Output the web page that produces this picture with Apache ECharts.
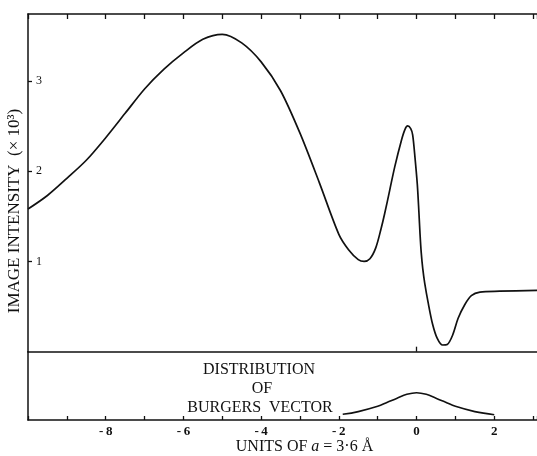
<!DOCTYPE html>
<html>
<head>
<meta charset="utf-8">
<script src="https://cdn.jsdelivr.net/npm/echarts@6/dist/echarts.min.js"></script>
<style>
  html, body { margin: 0; padding: 0; background: #fff; }
  #chart { width: 537px; height: 456px; }
</style>
</head>
<body>
<div id="chart"></div>
<script>
// Image intensity profile across the dislocation (units of a, intensity in 10^3)
const intensityX = [-10.0, -9.5, -9.0, -8.5, -8.0, -7.5, -7.0, -6.5, -6.0, -5.5, -5.0, -4.5, -4.0, -3.5, -3.0, -2.5, -2.0, -1.75, -1.5, -1.35, -1.2, -1.05, -0.92, -0.82, -0.69, -0.56, -0.39, -0.3, -0.23, -0.15, -0.1, -0.04, 0.02, 0.06, 0.09, 0.12, 0.16, 0.21, 0.3, 0.41, 0.53, 0.67, 0.79, 0.93, 1.07, 1.24, 1.41, 1.63, 2.14, 3.1];
const intensityY = [1.58, 1.73, 1.92, 2.12, 2.37, 2.64, 2.91, 3.13, 3.31, 3.46, 3.515, 3.42, 3.21, 2.89, 2.42, 1.87, 1.3, 1.13, 1.02, 1.0, 1.03, 1.15, 1.35, 1.53, 1.79, 2.05, 2.34, 2.46, 2.5, 2.47, 2.4, 2.15, 1.85, 1.55, 1.3, 1.1, 0.92, 0.76, 0.54, 0.31, 0.15, 0.074, 0.08, 0.185, 0.37, 0.52, 0.62, 0.66, 0.67, 0.68];

// Distribution of the Burgers vector (relative height)
const burgersX = [-1.9, -1.5, -1.0, -0.75, -0.5, -0.25, 0, 0.25, 0.5, 0.75, 1.0, 1.5, 2.0];
const burgersY = [0.083, 0.123, 0.2, 0.26, 0.32, 0.376, 0.4, 0.376, 0.32, 0.26, 0.2, 0.123, 0.078];

const yTicks = [1, 2, 3];
const xTickLabels = [-8, -6, -4, -2, 0, 2];

const FONT = '"Liberation Serif", "DejaVu Serif", serif';
const INK = '#111';

const pair = (xs, ys) => xs.map((x, i) => [x, ys[i]]);

const chart = echarts.init(document.getElementById('chart'), null, { renderer: 'canvas' });

chart.setOption({
  animation: false,
  backgroundColor: '#fff',
  grid: [
    { left: 28, right: 0, top: 14, height: 337.7 },
    { left: 28, right: 0, top: 351.7, height: 68.3 }
  ],
  xAxis: [
    { // upper frame edge with inward ticks
      gridIndex: 0, type: 'value', position: 'top', min: -10, max: 3.1, interval: 1,
      axisLine: { show: true, onZero: false, lineStyle: { color: INK, width: 1.5 } },
      axisTick: { show: true, inside: true, length: 5, lineStyle: { color: INK, width: 1.3 } },
      axisLabel: { show: false }, splitLine: { show: false }
    },
    { // separator between the panels, single tick at origin
      gridIndex: 0, type: 'value', position: 'bottom', min: -10, max: 3.1, interval: 1,
      axisLine: { show: true, onZero: false, lineStyle: { color: INK, width: 1.5 } },
      axisTick: { show: true, inside: true, length: 5, customValues: [0], lineStyle: { color: INK, width: 1.3 } },
      axisLabel: { show: false }, splitLine: { show: false }
    },
    { // bottom axis with labels
      gridIndex: 1, type: 'value', position: 'bottom', min: -10, max: 3.1, interval: 1,
      axisLine: { show: true, onZero: false, lineStyle: { color: INK, width: 1.5 } },
      axisTick: { show: true, inside: true, length: 4, lineStyle: { color: INK, width: 1.3 } },
      axisLabel: {
        show: true, margin: 5, color: INK, fontFamily: FONT, fontSize: 13, fontWeight: 'bold',
        customValues: xTickLabels,
        formatter: v => (v < 0 ? '-\u2009' + Math.abs(v) : String(v))
      },
      splitLine: { show: false }
    }
  ],
  yAxis: [
    {
      gridIndex: 0, type: 'value', min: 0, max: 3.74, interval: 1,
      axisLine: { show: true, onZero: false, lineStyle: { color: INK, width: 1.5 } },
      axisTick: { show: true, inside: true, length: 4, customValues: yTicks, lineStyle: { color: INK, width: 1.3 } },
      axisLabel: {
        show: true, inside: true, margin: 8, color: INK, fontFamily: FONT, fontSize: 12,
        customValues: yTicks
      },
      splitLine: { show: false }
    },
    {
      gridIndex: 1, type: 'value', min: 0, max: 1,
      axisLine: { show: true, onZero: false, lineStyle: { color: INK, width: 1.5 } },
      axisTick: { show: false }, axisLabel: { show: false }, splitLine: { show: false }
    }
  ],
  series: [
    {
      type: 'line', xAxisIndex: 0, yAxisIndex: 0, data: pair(intensityX, intensityY),
      smooth: 0.3, showSymbol: false, lineStyle: { color: INK, width: 1.7 }
    },
    {
      type: 'line', xAxisIndex: 2, yAxisIndex: 1, data: pair(burgersX, burgersY),
      smooth: 0.4, showSymbol: false, lineStyle: { color: INK, width: 1.6 }
    }
  ],
  graphic: [
    {
      type: 'text', x: 15, y: 211, rotation: Math.PI / 2,
      style: {
        text: 'IMAGE INTENSITY  (× 10³)', fill: INK, font: '17px ' + FONT,
        align: 'center', verticalAlign: 'middle'
      }
    },
    {
      type: 'text', x: 259, y: 370,
      style: { text: 'DISTRIBUTION', fill: INK, font: '16px ' + FONT, align: 'center', verticalAlign: 'middle' }
    },
    {
      type: 'text', x: 262, y: 388.5,
      style: { text: 'OF', fill: INK, font: '16px ' + FONT, align: 'center', verticalAlign: 'middle' }
    },
    {
      type: 'text', x: 260, y: 408,
      style: { text: 'BURGERS  VECTOR', fill: INK, font: '16px ' + FONT, align: 'center', verticalAlign: 'middle' }
    },
    {
      type: 'text', x: 304.5, y: 446.5,
      style: {
        text: '{n|UNITS OF }{i|a}{n| = 3·6 Å}',
        align: 'center', verticalAlign: 'middle',
        rich: {
          n: { fill: INK, fontFamily: FONT, fontSize: 16 },
          i: { fill: INK, fontFamily: FONT, fontSize: 16, fontStyle: 'italic' }
        }
      }
    }
  ]
});
</script>
</body>
</html>
